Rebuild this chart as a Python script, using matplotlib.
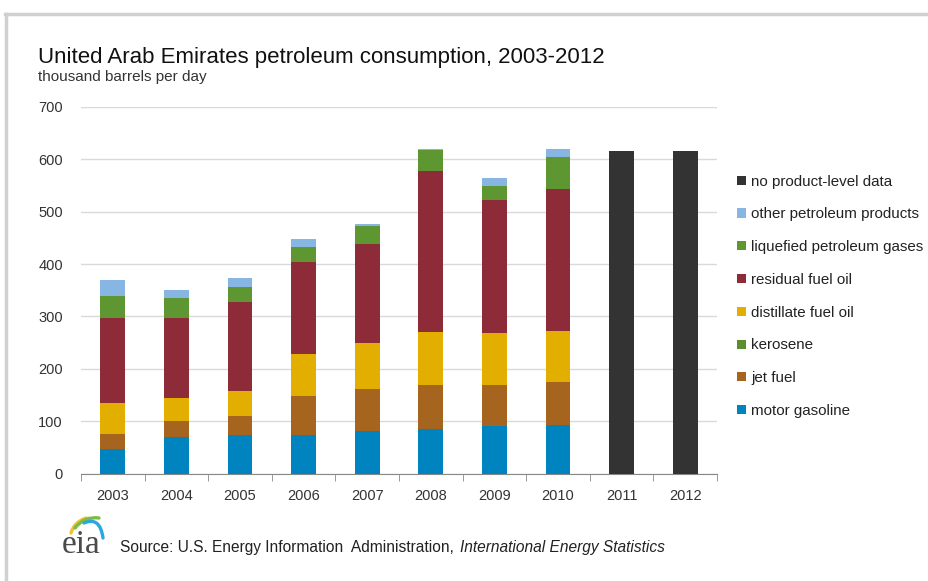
import matplotlib.pyplot as plt
from matplotlib.patches import Patch, PathPatch
from matplotlib.path import Path

plt.rcParams['font.family'] = ['Liberation Sans', 'DejaVu Sans']

# Data (thousand barrels per day)
years = ["2003", "2004", "2005", "2006", "2007", "2008", "2009", "2010", "2011", "2012"]
motor_gasoline = [46, 70, 74, 73, 81, 85, 90, 92, 0, 0]
jet_fuel = [30, 30, 36, 75, 81, 84, 79, 83, 0, 0]
kerosene = [0, 0, 0, 0, 0, 0, 0, 0, 0, 0]
distillate_fuel_oil = [59, 44, 48, 80, 88, 102, 99, 97, 0, 0]
residual_fuel_oil = [162, 153, 169, 176, 189, 307, 255, 272, 0, 0]
lpg = [42, 39, 30, 28, 33, 39, 27, 61, 0, 0]
other_products = [31, 14, 16, 16, 4, 3, 14, 14, 0, 0]
no_product_data = [0, 0, 0, 0, 0, 0, 0, 0, 616, 616]

series = [
    ("motor gasoline", motor_gasoline, "#0084BF"),
    ("jet fuel", jet_fuel, "#A5651F"),
    ("kerosene", kerosene, "#5A8F2E"),
    ("distillate fuel oil", distillate_fuel_oil, "#E2AF00"),
    ("residual fuel oil", residual_fuel_oil, "#8E2B38"),
    ("liquefied petroleum gases", lpg, "#5E9732"),
    ("other petroleum products", other_products, "#86B6E1"),
    ("no product-level data", no_product_data, "#333333"),
]

W, H = 929, 581
fig = plt.figure(figsize=(W / 100, H / 100), dpi=100)

# overlay in pixel units for frame, titles, logo and source
ov = fig.add_axes([0, 0, 1, 1])
ov.set_xlim(0, W)
ov.set_ylim(0, H)
ov.axis("off")

ax = fig.add_axes([81 / W, (H - 473.5) / H, 636 / W, 366.5 / H])

x = list(range(len(years)))
bottom = [0] * len(years)
for name, vals, color in series:
    ax.bar(x, vals, width=0.39, bottom=bottom, color=color, label=name, zorder=3)
    bottom = [b + v for b, v in zip(bottom, vals)]

ax.set_xlim(-0.5, len(years) - 0.5)
ax.set_ylim(0, 700)
ax.set_yticks(range(0, 701, 100))
ax.set_xticks(x)
ax.set_xticklabels(years)
ax.set_xticks([i - 0.5 for i in range(len(years) + 1)], minor=True)
ax.tick_params(axis="x", which="major", length=0, pad=11, labelsize=10.5, colors="#333333")
ax.tick_params(axis="x", which="minor", length=5, color="#888888")
ax.tick_params(axis="y", length=0, pad=13, labelsize=10.5, colors="#333333")
ax.grid(axis="y", color="#D9D9D9", linewidth=1, zorder=0)
for s in ["top", "right", "left"]:
    ax.spines[s].set_visible(False)
ax.spines["bottom"].set_color("#888888")

# legend, top entry first
handles = [Patch(facecolor=c, edgecolor="none") for _, _, c in series][::-1]
labels = [n for n, _, _ in series][::-1]
fig.legend(handles, labels, loc="upper left", bbox_to_anchor=(0.779, 0.723),
           frameon=False, fontsize=10.9, handlelength=0.55, handleheight=0.55,
           handletextpad=0.35, labelspacing=1.24, labelcolor="#222222")

# titles
ov.text(38, H - 57, "United Arab Emirates petroleum consumption, 2003-2012",
        fontsize=16, color="#111111", va="center")
ov.text(38, H - 77, "thousand barrels per day", fontsize=11, color="#333333", va="center")

# frame lines
ov.plot([5, W], [H - 14, H - 14], color="#D0D0D0", lw=2.5)
ov.plot([6, 6], [0, H - 14], color="#D0D0D0", lw=2.5)

# eia mark
ov.text(62, H - 553, "eia", fontsize=24, family=["Liberation Serif", "DejaVu Serif"],
        color="#4A4A4A", va="baseline")
swooshes = [
    ([(71, 533), (74, 522), (86, 518)], "#F2C12E"),
    ([(75, 528), (84, 516), (99, 518)], "#7DBB42"),
    ([(84, 523), (100, 516), (103, 538)], "#29A8E0"),
]
for pts, c in swooshes:
    verts = [(px, H - py) for px, py in pts]
    path = Path(verts, [Path.MOVETO, Path.CURVE3, Path.CURVE3])
    ov.add_patch(PathPatch(path, facecolor="none", edgecolor=c, lw=2.4, capstyle="round"))

# source line
src = ov.text(120, H - 552, "Source: U.S. Energy Information  Administration, ", fontsize=11.2,
              color="#222222", va="baseline")
fig.canvas.draw()
bb = src.get_window_extent()
ov.text(bb.x1 + 2, H - 552, "International Energy Statistics", fontsize=11.2,
        color="#222222", va="baseline", style="italic")

fig.savefig("out.png", dpi=100)
